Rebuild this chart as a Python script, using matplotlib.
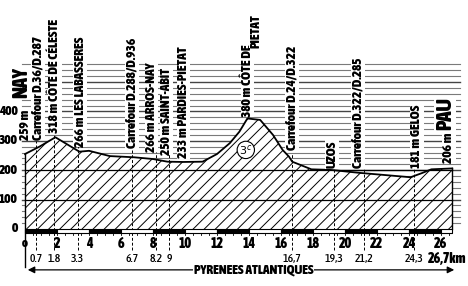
import numpy as np
import matplotlib
matplotlib.use("Agg")
import matplotlib.pyplot as plt
from matplotlib import font_manager as fm

# look for a narrow face that also has a bold cut
def is_narrow(f):
    return (f.stretch in ("condensed", "semi-condensed", "extra-condensed")
            or "Narrow" in f.name or "Condensed" in f.name)

narrow = [f for f in fm.fontManager.ttflist if is_narrow(f)]
bold_files, reg_files = {}, {}
for f in narrow:
    w = f.weight if isinstance(f.weight, int) else (700 if "bold" in str(f.weight) else 400)
    if w >= 600 and "Italic" not in f.fname and "Oblique" not in f.fname:
        bold_files.setdefault(f.name, f.fname)
    if 350 <= w < 600 and "Italic" not in f.fname and "Oblique" not in f.fname:
        reg_files.setdefault(f.name, f.fname)

if bold_files:
    fam = sorted(bold_files)[0]
    BOLD = dict(fontproperties=fm.FontProperties(fname=bold_files[fam]))
    REG = dict(fontproperties=fm.FontProperties(fname=reg_files.get(fam, bold_files[fam])))
    k = 1.0
else:
    BOLD = dict(family="DejaVu Sans", fontweight="bold")
    REG = dict(family="DejaVu Sans")
    k = 0.74
plt.rcParams['hatch.linewidth'] = 0.7

# Profile (km, altitude in m)
km = [0, 0.9, 1.9, 3.4, 4.0, 5.3, 6.8, 8.0, 8.9, 9.9, 11.1, 12.0, 12.8, 13.4,
      13.9, 14.7, 15.5, 16.1, 16.5, 16.7, 17.9, 19.1, 20.9, 22.4, 24.1,
      24.8, 25.4, 26.7]
alt = [255, 280, 312, 263, 266, 248, 244, 238, 229, 228, 229, 255, 292, 331,
       376, 371, 320, 269, 246, 229, 203, 201, 191, 184, 176, 190, 203, 206]

marks_km = [0.7, 1.8, 3.3, 6.7, 8.2, 9, 16.7, 19.3, 21.2, 24.3]
mark_labels = ["0.7", "1.8", "3.3", "6.7", "8.2", "9", "16,7", "19,3", "21,2", "24,3"]

place_km = [0.06, 0.82, 1.87, 3.44, 6.7, 7.9, 8.85, 9.9, 13.9, 14.45,
            16.7, 19.2, 20.8, 24.5, 26.5]
place_bottom = [303, 303, 326, 279, 275, 262, 252, 241, 381, 616,
                269, 207, 207, 207, 224]
place_text = ["259 m", "Carrefour D.36/D.287", "318 m CÔTE DE CÉLESTE",
              "266 m LES LABASSERES", "Carrefour D.288/D.936",
              "266 m ARROS-NAY", "250 m SAINT-ABIT", "233 m PARDIES-PIETAT",
              "380 m CÔTE DE", "PIETAT", "Carrefour D.24/D.322", "UZOS",
              "Carrefour D.322/D.285", "181 m GELOS", "206 m"]

y_ticks = [0, 100, 200, 300, 400]
x_ticks = list(range(2, 27, 2))

# pixel geometry: 16 px per km, 0.294 px per m, 0 m at y=229 px
W, H = 468, 286
ppk, ppm = 16.0, 0.294
y0px = 229
xl, xr = -25 / ppk, (W - 25) / ppk

fig = plt.figure(figsize=(W / 100, H / 100), dpi=100)
ax = fig.add_axes([0, 0, 1, 1])
ax.set_xlim(xl, xr)
ax.set_ylim(-(H - y0px) / ppm, y0px / ppm)
ax.axis("off")

# horizontal ruling every 20 m
for h in range(20, 561, 20):
    col = "#444444" if h % 100 == 0 else "#7a7a7a"
    ax.plot([-0.2, 27.2], [h, h], color=col, lw=1.0 if h % 100 == 0 else 0.8, zorder=1)

# hatched profile
ax.fill_between(km, alt, 0, facecolor="white", edgecolor="black", hatch="///",
                linewidth=0, zorder=2)
ax.plot(km, alt, color="black", lw=1.3, zorder=4)
for h in [100, 200]:
    ax.plot([0, 26.7], [h, h], color="black", lw=0.9, zorder=3)
ax.plot([26.7, 26.7], [0, 206], color="black", lw=1.0, zorder=4)
ax.plot([0, 0], [-130, 255], color="black", lw=1.0, zorder=4)

# dashed verticals at landmarks
for m in marks_km:
    top = np.interp(m, km, alt) + 25
    ax.plot([m, m], [-70, top], color="black", lw=0.7, ls=(0, (3, 2)), zorder=3)

# distance bar
for i, s in enumerate(range(0, 27, 2)):
    e = min(s + 2, 26.7)
    ax.fill_between([s, e], -15, 0, facecolor="black" if i % 2 == 0 else "white",
                    edgecolor="black", linewidth=0.8, zorder=5)
for t in np.arange(0, 26.8, 0.5):
    ax.plot([t, t], [-15, -22], color="black", lw=0.6, zorder=5)

# tick labels
for v in y_ticks:
    ax.text(-0.45, v, str(v), ha="right", va="center", fontsize=9.5 * k, **BOLD)
ax.text(0, -50, "o", ha="center", va="center", fontsize=9, **BOLD)
for v in x_ticks:
    ax.text(v, -52, str(v), ha="center", va="center", fontsize=10 * k, **BOLD)
for m, t in zip(marks_km, mark_labels):
    ax.text(m, -101, t, ha="center", va="center", fontsize=8.5 * k, **REG)
ax.text(26.4, -101, "26,7km", ha="center", va="center", fontsize=10 * k, **BOLD)

# department arrow
ax.annotate("", xy=(0, -139), xytext=(14.3, -139),
            arrowprops=dict(arrowstyle="-|>", color="black", lw=0.9))
ax.annotate("", xy=(27.0, -139), xytext=(14.3, -139),
            arrowprops=dict(arrowstyle="-|>", color="black", lw=0.9))
ax.text(14.3, -141, "PYRENEES ATLANTIQUES", ha="center", va="center",
        fontsize=9.5 * k, bbox=dict(facecolor="white", edgecolor="none", pad=0.5),
        **BOLD)

# landmark labels
for x, b, t in zip(place_km, place_bottom, place_text):
    ax.text(x, b, t, rotation=90, ha="center", va="bottom", fontsize=9.5 * k,
            zorder=6, bbox=dict(facecolor="white", edgecolor="none", pad=0.3),
            **BOLD)

ax.text(-0.25, 445, "NAY", rotation=90, ha="center", va="bottom",
        fontsize=14.5 * k, zorder=6,
        bbox=dict(facecolor="white", edgecolor="none", pad=0.3), **BOLD)
ax.text(26.25, 337, "PAU", rotation=90, ha="center", va="bottom",
        fontsize=15 * k, zorder=6,
        bbox=dict(facecolor="white", edgecolor="none", pad=0.5), **BOLD)

# climb category
ax.text(13.8, 269, "3$^c$", ha="center", va="center", fontsize=8, zorder=6,
        bbox=dict(boxstyle="circle,pad=0.15", facecolor="white",
                  edgecolor="black", lw=0.8))

fig.savefig("out.png", dpi=100)
